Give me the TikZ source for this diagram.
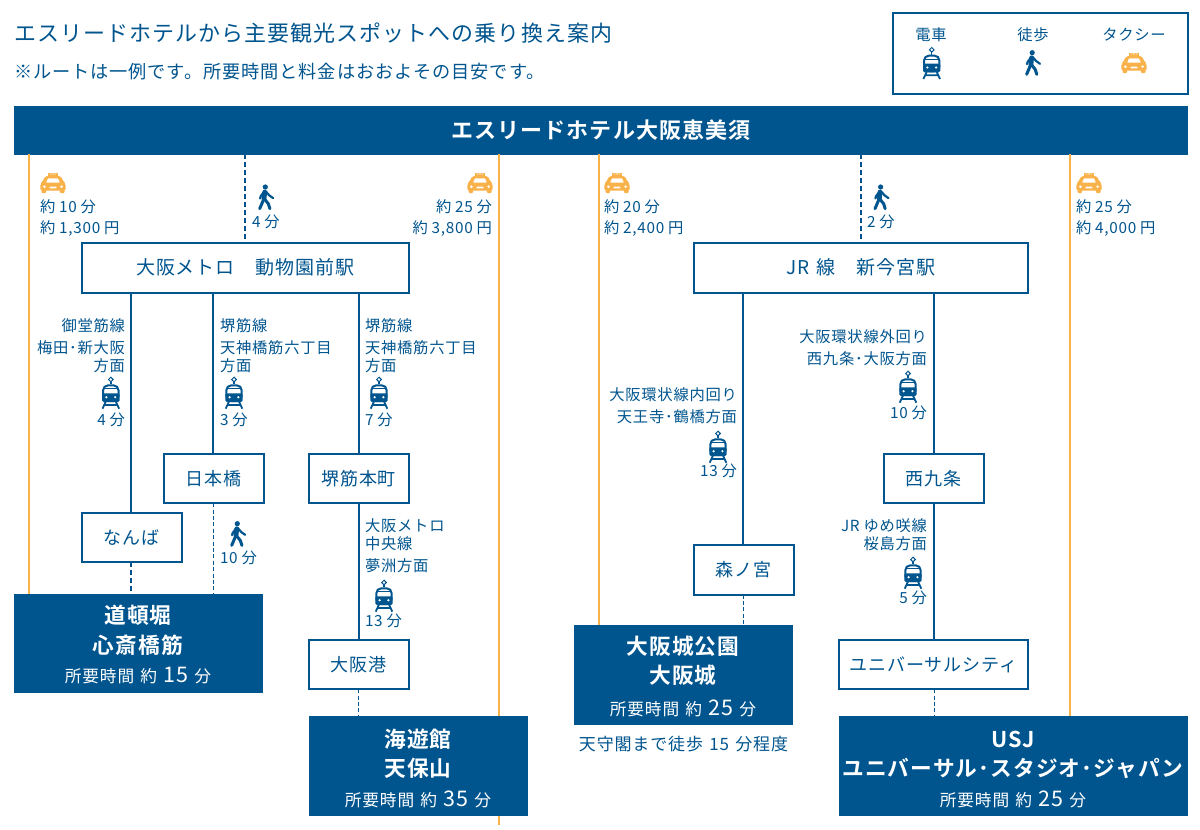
\documentclass[tikz,border=0pt]{standalone}
\usepackage{fontspec}
\setmainfont[LetterSpace=5,WordSpace=1.35,BoldFont={Noto Sans CJK JP Bold}]{Noto Sans CJK JP}
\definecolor{navy}{HTML}{00558F}
\definecolor{amber}{HTML}{F9B24A}
\newcommand{\fs}[1]{\fontsize{#1pt}{#1pt}\selectfont}
\newcommand{\labfont}{\fontsize{15.3pt}{15.3pt}\selectfont\spaceskip=3.8pt\relax}
\tikzset{
  every node/.style={inner sep=0pt,outer sep=0pt,text=navy},
  lab/.style={font=\labfont,align=left,yshift=-1pt},
  labl/.style={lab,anchor=west},
  labr/.style={lab,anchor=east},
  stn/.style={draw=navy,line width=1.8pt,fill=white,font=\fs{18},anchor=north west,align=center,xshift=0.6pt,yshift=-0.6pt},
  dest/.style={fill=navy,anchor=north west},
  dt/.style={text=white,font=\fs{21.7}\bfseries},
  dn/.style={text=white,font=\fs{16.7},yshift=-1pt},
  rail/.style={draw=navy,line width=2pt},
  walkline/.style={draw=navy,line width=1.1pt,dash pattern=on 4pt off 2.4pt},
  walkthick/.style={draw=navy,line width=2pt,dash pattern=on 5pt off 3pt},
  taxiline/.style={draw=amber,line width=2pt},
  train/.pic={
    \draw[navy,line width=1pt,fill=white] (0,-15.8)--(2.3,-13.5)--(0,-11.2)--(-2.3,-13.5)--cycle;
    \draw[navy,line width=1.4pt] (0,-11.2)--(0,-8.7);
    \draw[navy,line width=2pt,rounded corners=5pt,fill=white] (-7.7,8)--(-7.7,-7.7)--(7.7,-7.7)--(7.7,8)--cycle;
    \fill[navy,rounded corners=1.5pt] (-8.7,0.3)--(8.7,0.3)--(8.7,9)--(-8.7,9)--cycle;
    \draw[navy,line width=1pt] (-7,-4.3)--(7,-4.3);
    \fill[white] (-4.4,4.2) circle (1.2) (4.4,4.2) circle (1.2);
    \draw[navy,line width=1.8pt] (-5,8.5)--(-8.3,15.7) (5,8.5)--(8.3,15.7) (-7,12)--(7,12);
  },
  walker/.pic={
    \fill[navy] (-1.4,-10.3) circle (2.6);
    \draw[navy,line width=4.8pt,line cap=round,line join=round] (-2,-5.2)--(-2.7,1.5);
    \draw[navy,line width=3pt,line cap=round,line join=round] (-3,2)--(-7,11.4);
    \draw[navy,line width=3pt,line cap=round,line join=round] (-2,2)--(1.6,6.4)--(3.2,11.4);
    \draw[navy,line width=2.2pt,line cap=round,line join=round] (-1,-6)--(2.5,-2)--(6.4,0.8);
    \draw[navy,line width=2.2pt,line cap=round,line join=round] (-3,-5)--(-6,-1)--(-6.6,1.2);
  },
  taxi/.pic={
    \fill[amber] (-5,-10.3) rectangle (5,-7);
    \fill[white] (-3.2,-9.3) rectangle (-1.6,-8.6) (-0.8,-9.3) rectangle (0.8,-8.6) (1.6,-9.3) rectangle (3.2,-8.6);
    \fill[amber,rounded corners=2pt] (-8,-7)--(8,-7)--(10.5,-1)--(12.7,0.5)--(12.7,7.5)--(-12.7,7.5)--(-12.7,0.5)--(-10.5,-1)--cycle;
    \fill[amber,rounded corners=1pt] (-11.5,6) rectangle (-6.8,10) (6.8,6) rectangle (11.5,10);
    \fill[white,rounded corners=0.6pt] (-5,-4.6)--(5,-4.6)--(6.8,-0.4)--(-6.8,-0.4)--cycle;
    \fill[white] (-8.6,3.7) circle (1.4) (8.6,3.7) circle (1.4);
    \fill[white,rounded corners=0.6pt] (-3,3.6)--(3,3.6)--(3.8,5.3)--(-3.8,5.3)--cycle;
  },
}
\begin{document}
\begin{tikzpicture}[x=1pt,y=-1pt]
\useasboundingbox (0,0) rectangle (1200,830);
\fill[white] (0,0) rectangle (1200,830);

\node[anchor=west,font=\fs{21.95}] (title) at (14,33.5) {エスリードホテルから主要観光スポットへの乗り換え案内};
\node[anchor=west,font=\fs{18.2}] (note) at (14,71.5) {※ルートは一例です。所要時間と料金はおおよその目安です。};

\node[draw=navy,line width=2pt,anchor=north west,minimum width=295pt,minimum height=81.5pt] (legend) at (893,12.5) {};
\node[lab] (legtrain) at (931,34) {電車};
\node[lab] (legwalk) at (1033,34) {徒歩};
\node[lab] (legtaxi) at (1134,34) {タクシー};
\pic at (931.7,63.3) {train};
\pic at (1033.6,63) {walker};
\pic at (1134,63) {taxi};

\node[fill=navy,anchor=north west,minimum width=1174pt,minimum height=48.5pt,text=white,font=\fs{22}\bfseries] (hotel) at (14,106) {エスリードホテル大阪恵美須};

% station nodes
\node[stn,font=\fs{19},minimum width=327.5pt,minimum height=50pt] (metro) at (81,242) {大阪メトロ　動物園前駅};
\node[stn,font=\fs{19},minimum width=334.5pt,minimum height=50pt] (jr) at (693,242) {JR 線　新今宮駅};
\node[stn,minimum width=100pt,minimum height=49.5pt] (nipponbashi) at (163,453) {日本橋};
\node[stn,minimum width=100pt,minimum height=49.5pt] (sakaisuji) at (308,453) {堺筋本町};
\node[stn,minimum width=100pt,minimum height=49.5pt] (namba) at (81,512) {なんば};
\node[stn,minimum width=100pt,minimum height=49.5pt] (osakako) at (308,639) {大阪港};
\node[stn,minimum width=100pt,minimum height=50pt] (morinomiya) at (693,544) {森ノ宮};
\node[stn,minimum width=100pt,minimum height=49.5pt] (nishikujo) at (883,453) {西九条};
\node[stn,minimum width=189.5pt,minimum height=49.5pt] (univ) at (838,639) {ユニバーサルシティ};

% destination nodes
\node[dest,minimum width=249pt,minimum height=99pt] (dotonbori) at (14,594) {};
\node[dest,minimum width=219pt,minimum height=100pt] (osakajo) at (574,625) {};
\node[dest,minimum width=219pt,minimum height=100pt] (kaiyukan) at (309,716) {};
\node[dest,minimum width=349pt,minimum height=100pt] (usj) at (839,716) {};

% taxi routes
\coordinate (ta) at (29.4,154); \coordinate (tb) at (498.6,154); \coordinate (tbe) at (498.6,825);
\coordinate (tc) at (599,154); \coordinate (td) at (1070,154);
\draw[taxiline] (ta)--(ta |- dotonbori.north);
\draw[taxiline] (tb)--(tb |- kaiyukan.north);
\draw[taxiline] (tb |- kaiyukan.south)--(tbe);
\draw[taxiline] (tc)--(tc |- osakajo.north);
\draw[taxiline] (td)--(td |- usj.north);

% walking from the hotel
\coordinate (wa) at (245,154); \coordinate (wb) at (861,154);
\draw[walkthick] (wa)--(wa |- metro.north);
\draw[walkthick] (wb)--(wb |- jr.north);

% rail lines
\coordinate (m1) at (131.2,293); \coordinate (m2) at (213.2,293); \coordinate (m3) at (358.6,293);
\draw[rail] (m1)--(m1 |- namba.north);
\draw[rail] (m2)--(m2 |- nipponbashi.north);
\draw[rail] (m3)--(m3 |- sakaisuji.north);
\draw[rail] (m3 |- sakaisuji.south)--(m3 |- osakako.north);
\draw[walkthick] (m1 |- namba.south)--(m1 |- dotonbori.north);
\draw[walkline] (m2 |- nipponbashi.south)--(m2 |- dotonbori.north);
\draw[walkline] (m3 |- osakako.south)--(m3 |- kaiyukan.north);
\coordinate (j1) at (743.2,293); \coordinate (j2) at (934.2,293);
\draw[rail] (j1)--(j1 |- morinomiya.north);
\draw[rail] (j2)--(j2 |- nishikujo.north);
\draw[rail] (j2 |- nishikujo.south)--(j2 |- univ.north);
\draw[walkline] (j1 |- morinomiya.south)--(j1 |- osakajo.north);
\draw[walkline] (j2 |- univ.south)--(j2 |- usj.north);

% taxi & walk labels
\pic at (53,183) {taxi};
\node[labl] (a1) at (40,206) {約 10 分};
\node[labl] (a2) at (40,228) {約 1,300 円};
\pic at (266.7,197.3) {walker};
\node[labl] (a3) at (252,221) {4 分};
\pic at (480,183) {taxi};
\node[labr] (a4) at (492,206) {約 25 分};
\node[labr] (a5) at (492,228) {約 3,800 円};
\pic at (617,183) {taxi};
\node[labl] (a6) at (604,206) {約 20 分};
\node[labl] (a7) at (604,228) {約 2,400 円};
\pic at (882,197.3) {walker};
\node[labl] (a8) at (867,221) {2 分};
\pic at (1089,183) {taxi};
\node[labl] (a9) at (1076,206) {約 25 分};
\node[labl] (a10) at (1076,228) {約 4,000 円};

% line labels
\node[labr] (b1) at (125,325) {御堂筋線};
\node[labr] (b2) at (125,347) {梅田･新大阪};
\node[labr] (b3) at (125,365) {方面};
\pic at (110.8,393) {train};
\node[labr] (b4) at (125,419) {4 分};

\node[labl] (c1) at (220,325) {堺筋線};
\node[labl] (c2) at (220,347) {天神橋筋六丁目};
\node[labl] (c3) at (220,365) {方面};
\pic at (234,393) {train};
\node[labl] (c4) at (220,419) {3 分};

\node[labl] (d1) at (365,325) {堺筋線};
\node[labl] (d2) at (365,347) {天神橋筋六丁目};
\node[labl] (d3) at (365,365) {方面};
\pic at (379,393) {train};
\node[labl] (d4) at (365,419) {7 分};

\pic at (238.7,534) {walker};
\node[labl] (e1) at (220,557) {10 分};

\node[labl] (f1) at (365,525) {大阪メトロ};
\node[labl] (f2) at (365,543) {中央線};
\node[labl] (f3) at (365,565) {夢洲方面};
\pic at (384,596) {train};
\node[labl] (f4) at (365,620) {13 分};

\node[labr] (g1) at (737,394) {大阪環状線内回り};
\node[labr] (g2) at (737,416) {天王寺･鶴橋方面};
\pic at (718,447) {train};
\node[labr] (g3) at (737,470) {13 分};

\node[labr] (h1) at (927,336) {大阪環状線外回り};
\node[labr] (h2) at (927,358) {西九条･大阪方面};
\pic at (908,387) {train};
\node[labr] (h3) at (927,412) {10 分};

\node[labr] (i1) at (927,525) {JR ゆめ咲線};
\node[labr] (i2) at (927,543) {桜島方面};
\pic at (913,573) {train};
\node[labr] (i3) at (927,597) {5 分};

% destination text
\node[dt] (k1) at (138,615) {道頓堀};
\node[dt] (k2) at (138,645) {心斎橋筋};
\node[dn] (k3) at (138,675) {所要時間 約 {\fs{21.5}15} 分};
\node[dt] (l1) at (683,646) {大阪城公園};
\node[dt] (l2) at (683,675) {大阪城};
\node[dn] (l3) at (683,707) {所要時間 約 {\fs{21.5}25} 分};
\node[font=\fs{17}] (l4) at (683.5,744) {天守閣まで徒歩 15 分程度};
\node[dt] (n1) at (418,739) {海遊館};
\node[dt] (n2) at (418,768) {天保山};
\node[dn] (n3) at (418,798) {所要時間 約 {\fs{21.5}35} 分};
\node[dt] (o1) at (1013,739) {USJ};
\node[dt] (o2) at (1013,768) {ユニバーサル･スタジオ･ジャパン};
\node[dn] (o3) at (1013,798) {所要時間 約 {\fs{21.5}25} 分};
\end{tikzpicture}
\end{document}
